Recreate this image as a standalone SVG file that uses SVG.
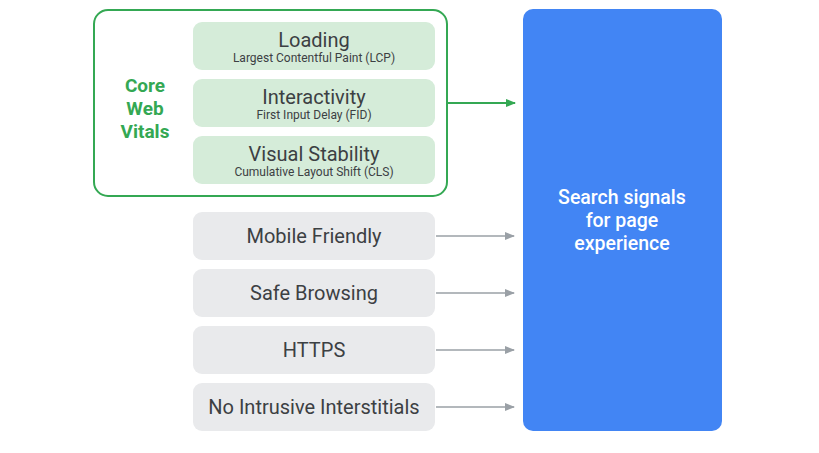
<svg xmlns="http://www.w3.org/2000/svg" width="819" height="453" viewBox="0 0 819 453">
<defs>
<style>
.cwv{fill:#d5ecd9;}
.gray{fill:#e9eaec;}
.t{font-family:"Roboto","Liberation Sans",sans-serif;fill:#3c4043;text-anchor:middle;}
.big{font-size:20px;font-weight:400;}
.sub{font-size:12px;}
.g{font-family:"Roboto","Liberation Sans",sans-serif;fill:#34a853;font-size:19px;font-weight:700;text-anchor:middle;}
.w{font-family:"Roboto","Liberation Sans",sans-serif;fill:#ffffff;font-size:19.5px;font-weight:500;text-anchor:middle;}
.ga{stroke:#34a853;stroke-width:2;fill:none;}
.ya{stroke:#9aa0a6;stroke-width:1.6;fill:none;}
</style>
<marker id="ag" markerWidth="10" markerHeight="8" refX="9" refY="4" orient="auto" markerUnits="userSpaceOnUse">
<path d="M0,0 L10,4 L0,8 Z" fill="#34a853"/>
</marker>
<marker id="ay" markerWidth="10" markerHeight="8" refX="9" refY="4" orient="auto" markerUnits="userSpaceOnUse">
<path d="M0,0 L10,4 L0,8 Z" fill="#9aa0a6"/>
</marker>
</defs>
<rect width="819" height="453" fill="#ffffff"/>
<g id="core-web-vitals">
<rect x="94" y="10" width="353" height="186" rx="14" fill="none" stroke="#34a853" stroke-width="2"/>
<text class="g" x="145" y="92">Core</text>
<text class="g" x="145" y="115">Web</text>
<text class="g" x="145" y="138">Vitals</text>
</g>
<g id="loading">
<rect class="cwv" x="193" y="22" width="242" height="48" rx="9"/>
<text class="t big" x="314" y="47">Loading</text>
<text class="t sub" x="314" y="62">Largest Contentful Paint (LCP)</text>
</g>
<g id="interactivity">
<rect class="cwv" x="193" y="79" width="242" height="48" rx="9"/>
<text class="t big" x="314" y="104">Interactivity</text>
<text class="t sub" x="314" y="119">First Input Delay (FID)</text>
</g>
<g id="visual-stability">
<rect class="cwv" x="193" y="136" width="242" height="48" rx="9"/>
<text class="t big" x="314" y="161">Visual Stability</text>
<text class="t sub" x="314" y="176">Cumulative Layout Shift (CLS)</text>
</g>
<g id="mobile-friendly">
<rect class="gray" x="193" y="212" width="242" height="48" rx="9"/>
<text class="t big" x="314" y="243">Mobile Friendly</text>
</g>
<g id="safe-browsing">
<rect class="gray" x="193" y="269" width="242" height="48" rx="9"/>
<text class="t big" x="314" y="300">Safe Browsing</text>
</g>
<g id="https">
<rect class="gray" x="193" y="326" width="242" height="48" rx="9"/>
<text class="t big" x="314" y="357">HTTPS</text>
</g>
<g id="no-intrusive-interstitials">
<rect class="gray" x="193" y="383" width="242" height="48" rx="9"/>
<text class="t big" x="314" y="414">No Intrusive Interstitials</text>
</g>
<g id="search-signals">
<rect x="523" y="9" width="199" height="422" rx="10" fill="#4285f4"/>
<text class="w" x="622" y="204">Search signals</text>
<text class="w" x="622" y="227">for page</text>
<text class="w" x="622" y="250">experience</text>
</g>
<g id="connectors">
<line class="ga" x1="447" y1="103" x2="515" y2="103" marker-end="url(#ag)"/>
<line class="ya" x1="436" y1="236" x2="514" y2="236" marker-end="url(#ay)"/>
<line class="ya" x1="436" y1="293" x2="514" y2="293" marker-end="url(#ay)"/>
<line class="ya" x1="436" y1="350" x2="514" y2="350" marker-end="url(#ay)"/>
<line class="ya" x1="436" y1="407" x2="514" y2="407" marker-end="url(#ay)"/>
</g>
</svg>
